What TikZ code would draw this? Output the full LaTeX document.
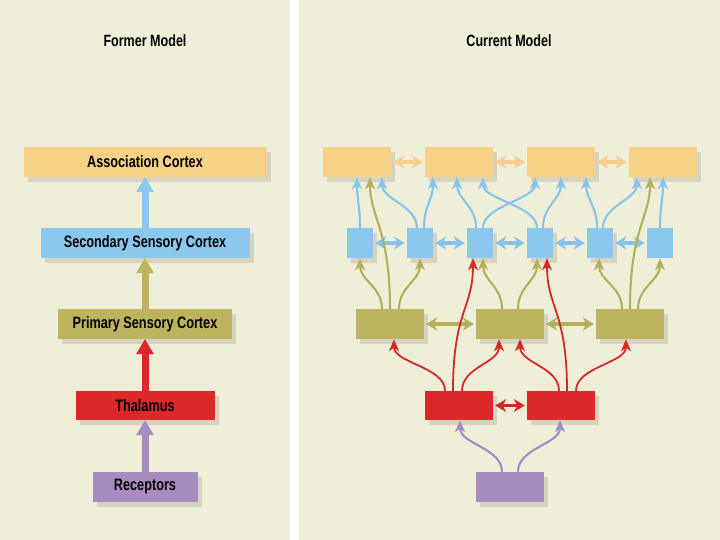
\documentclass[tikz,border=0pt]{standalone}
\usepackage{fontspec}
\setmainfont{Liberation Sans}[FakeStretch=0.77]
\usetikzlibrary{arrows.meta,shadows}
\definecolor{bg}{RGB}{239,239,217}
\definecolor{shadowc}{RGB}{214,212,190}
\definecolor{assocc}{RGB}{247,210,134}
\definecolor{bluec}{RGB}{140,200,238}
\definecolor{olivec}{RGB}{190,180,95}
\definecolor{redc}{RGB}{220,40,40}
\definecolor{purplec}{RGB}{168,140,192}
\definecolor{orangeA}{RGB}{245,205,140}
\definecolor{blueA}{RGB}{135,195,235}
\definecolor{oliveA}{RGB}{180,175,90}
\definecolor{redA}{RGB}{215,40,40}
\definecolor{purpleA}{RGB}{160,140,200}
\tikzset{
  boxplain/.style={rectangle, inner sep=0pt, minimum height=30pt, text=black},
  box/.style={boxplain, general shadow={fill=shadowc, shadow xshift=4pt, shadow yshift=-5pt}},
  sa/.style={-{Stealth[length=12pt,width=10pt,inset=3.5pt]}, line width=2.1pt},
  da/.style={{Stealth[length=11pt,width=13pt,inset=3.5pt]}-{Stealth[length=11pt,width=13pt,inset=3.5pt]}, line width=3.2pt, shorten >=2pt, shorten <=2pt},
  bigA/.style={line width=7pt, -{Triangle[width=18pt,length=15pt,line width=0pt]}},
  lab/.style={font=\bfseries\fontsize{16.5}{19}\selectfont},
  ttl/.style={font=\bfseries\fontsize{16.3}{19}\selectfont, text=black}
}
\begin{document}
\begin{tikzpicture}[x=1pt,y=-1pt]
\useasboundingbox (0,0) rectangle (720,540);
\fill[bg] (0,0) rectangle (720,540);
\fill[white] (290,0) rectangle (299,540);

% titles
\node[ttl] (ttlA) at (145,41) {Former Model};
\node[ttl] (ttlB) at (509,41) {Current Model};

% ---------- former model ----------
\node[box, lab, fill=assocc, minimum width=243pt] (A) at (145,162) {Association Cortex};
\node[box, lab, fill=bluec, minimum width=209pt] (S) at (145,243) {Secondary Sensory Cortex};
\node[box, lab, fill=olivec, minimum width=174pt] (P) at (145,324) {Primary Sensory Cortex};
\node[box, lab, fill=redc, minimum width=139pt, minimum height=29pt] (T) at (145,405.5) {Thalamus};
\node[box, lab, fill=purplec, minimum width=105pt] (R) at (145,487) {Receptors};

\draw[bigA, bluec] (S.north) -- (A.south);
\draw[bigA, olivec] (P.north) -- (S.south);
\draw[bigA, redc] (T.north) -- (P.south);
\draw[bigA, purplec] (R.north) -- (T.south);

% ---------- current model ----------
\foreach \n/\x in {1/357,2/459,3/561,4/663}
  \node[box, fill=assocc, minimum width=68pt] (a\n) at (\x,162) {};
\foreach \n/\x in {1/360,2/420,3/480,4/540,5/600}
  \node[box, fill=bluec, minimum width=26pt] (s\n) at (\x,243) {};
\node[boxplain, fill=bluec, minimum width=26pt] (s6) at (660,243) {};
\foreach \n/\x in {1/390,2/510,3/630}
  \node[box, fill=olivec, minimum width=68pt] (p\n) at (\x,324) {};
\node[box, fill=redc, minimum width=68pt, minimum height=29pt] (t1) at (459,405.5) {};
\node[box, fill=redc, minimum width=68pt, minimum height=29pt] (t2) at (561,405.5) {};
\node[box, fill=purplec, minimum width=68pt] (r) at (510,487) {};

% lateral double arrows
\draw[da, orangeA] (a1.east) -- (a2.west);
\draw[da, orangeA] (a2.east) -- (a3.west);
\draw[da, orangeA] (a3.east) -- (a4.west);
\draw[da, blueA] (s1.east) -- (s2.west);
\draw[da, blueA] (s2.east) -- (s3.west);
\draw[da, blueA] (s3.east) -- (s4.west);
\draw[da, blueA] (s4.east) -- (s5.west);
\draw[da, blueA] (s5.east) -- (s6.west);
\draw[da, oliveA] (p1.east) -- (p2.west);
\draw[da, oliveA] (p2.east) -- (p3.west);
\draw[da, redA] (t1.east) -- (t2.west);

% purple
\draw[sa, purpleA] ([xshift=-8pt]r.north) .. controls +(0,-24) and +(0,24) .. ([xshift=1pt]t1.south);
\draw[sa, purpleA] ([xshift=8pt]r.north) .. controls +(0,-24) and +(0,24) .. ([xshift=-1pt]t2.south);

% red
\draw[sa, redA, line width=1.8pt] ([xshift=-14pt]t1.north) .. controls +(0,-24) and +(0,24) .. ([xshift=4pt]p1.south);
\draw[sa, redA, line width=1.8pt] ([xshift=3pt]t1.north) .. controls +(0,-24) and +(0,24) .. ([xshift=-11pt]p2.south);
\draw[sa, redA, line width=1.8pt] ([xshift=-2pt]t2.north) .. controls +(0,-24) and +(0,24) .. ([xshift=10pt]p2.south);
\draw[sa, redA, line width=1.8pt] ([xshift=15pt]t2.north) .. controls +(0,-24) and +(0,24) .. ([xshift=-4pt]p3.south);
\draw[sa, redA, line width=1.8pt] ([xshift=-6pt]t1.north) .. controls +(0,-80) and +(0,50) .. ([xshift=-7pt]s3.south);
\draw[sa, redA, line width=1.8pt] ([xshift=6pt]t2.north) .. controls +(0,-80) and +(0,50) .. ([xshift=7pt]s4.south);

% olive
\draw[sa, oliveA] ([xshift=-8pt]p1.north) .. controls +(0,-22) and +(0,22) .. (s1.south);
\draw[sa, oliveA] ([xshift=9pt]p1.north) .. controls +(0,-22) and +(0,22) .. (s2.south);
\draw[sa, oliveA] (p1.north) .. controls +(0,-80) and +(0,40) .. ([xshift=13pt]a1.south);
\draw[sa, oliveA] ([xshift=-8pt]p2.north) .. controls +(0,-22) and +(0,22) .. ([xshift=3pt]s3.south);
\draw[sa, oliveA] ([xshift=8pt]p2.north) .. controls +(0,-22) and +(0,22) .. ([xshift=-3pt]s4.south);
\draw[sa, oliveA] ([xshift=-8pt]p3.north) .. controls +(0,-22) and +(0,22) .. ([xshift=-1pt]s5.south);
\draw[sa, oliveA] ([xshift=8pt]p3.north) .. controls +(0,-22) and +(0,22) .. (s6.south);
\draw[sa, oliveA] (p3.north) .. controls +(0,-80) and +(0,40) .. ([xshift=-13pt]a4.south);

% blue
\draw[sa, blueA] (s1.north) .. controls +(0,-20) and +(0,20) .. (a1.south);
\draw[sa, blueA] ([xshift=-3pt]s2.north) .. controls +(0,-22) and +(0,22) .. ([xshift=25pt]a1.south);
\draw[sa, blueA] ([xshift=4pt]s2.north) .. controls +(0,-22) and +(0,22) .. ([xshift=-26pt]a2.south);
\draw[sa, blueA] ([xshift=-4pt]s3.north) .. controls +(0,-22) and +(0,22) .. ([xshift=-2pt]a2.south);
\draw[sa, blueA] ([xshift=3pt]s3.north) .. controls +(0,-22) and +(0,22) .. ([xshift=-26pt]a3.south);
\draw[sa, blueA] ([xshift=-3pt]s4.north) .. controls +(0,-22) and +(0,22) .. ([xshift=24pt]a2.south);
\draw[sa, blueA] ([xshift=3pt]s4.north) .. controls +(0,-22) and +(0,22) .. (a3.south);
\draw[sa, blueA] ([xshift=-3pt]s5.north) .. controls +(0,-22) and +(0,22) .. ([xshift=25pt]a3.south);
\draw[sa, blueA] ([xshift=3pt]s5.north) .. controls +(0,-22) and +(0,22) .. ([xshift=-26pt]a4.south);
\draw[sa, blueA] (s6.north) .. controls +(0,-20) and +(0,20) .. (a4.south);
\end{tikzpicture}
\end{document}
